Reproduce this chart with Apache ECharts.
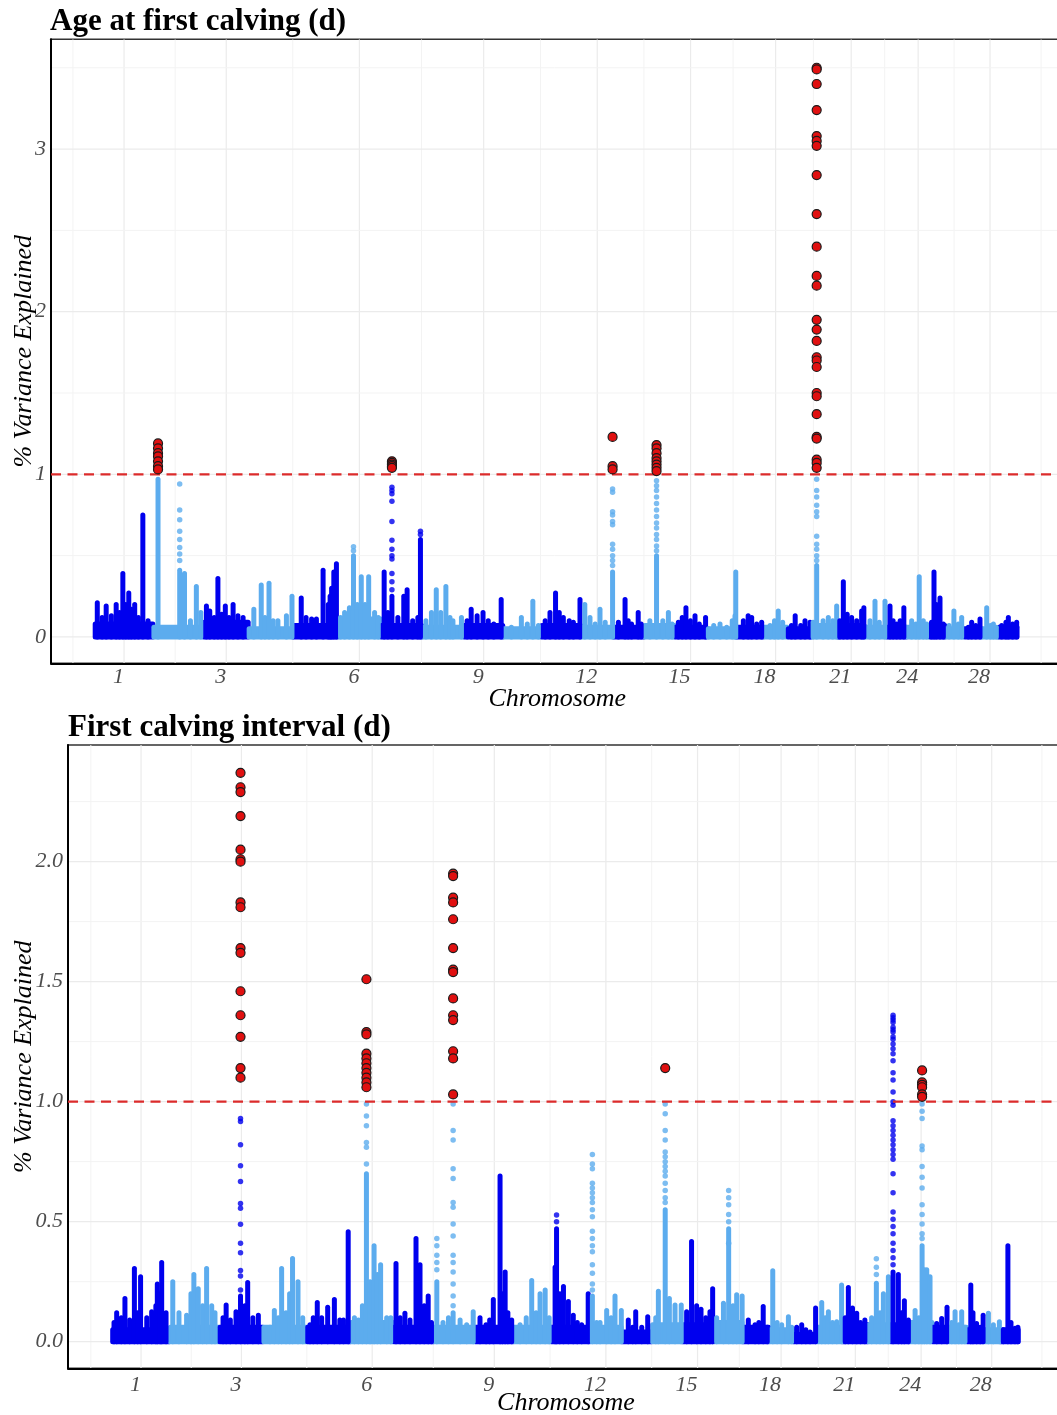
<!DOCTYPE html>
<html><head><meta charset="utf-8">
<script src="https://cdn.jsdelivr.net/npm/echarts@6/dist/echarts.min.js"></script>
<style>html,body{margin:0;padding:0;background:#fff}#c{width:1057px;height:1415px}</style>
</head><body><div id="c"></div>
<script>
// ---------------- DATA ----------------
// chromosome lengths (Mb), BTA 1..29
const chrLen = [158.5,136.2,121.0,120.0,120.1,117.8,110.7,113.3,105.5,103.3,107.0,87.2,83.5,82.4,85.0,81.0,73.2,65.8,63.4,72.0,71.6,61.4,52.5,62.3,42.35,52.0,45.6,45.9,51.1];
const chrLabels = [1,3,6,9,12,15,18,21,24,28];
const yTicksAfc = [0,1,2,3];
const yTicksFci = [0,0.5,1,1.5,2];
const threshold = 1.0;

// ---- Age at first calving ----
// dense background level per chromosome
const afcBase = [0.08,0.06,0.09,0.05,0.07,0.11,0.07,0.06,0.07,0.05,0.07,0.06,0.06,0.07,0.06,0.05,0.06,0.06,0.05,0.07,0.07,0.06,0.06,0.06,0.07,0.05,0.05,0.05,0.06];
// dense columns of SNPs [chr, pos Mb, top value]
const afcCols = [
[1,7,0.21],[1,20,0.12],[1,31,0.19],[1,45,0.13],[1,58,0.2],[1,67,0.15],[1,76,0.39],[1,84,0.2],[1,92,0.27],[1,99,0.17],[1,108,0.2],[1,118,0.12],[1,130,0.75],[1,144,0.1],
[2,12.5,0.97],[2,71,0.41],[2,84,0.39],[2,100,0.1],[2,116,0.31],[2,128,0.15],
[3,7,0.19],[3,16,0.16],[3,28,0.12],[3,38,0.36],[3,48,0.14],[3,58,0.19],[3,68,0.12],[3,79,0.2],[3,92,0.13],[3,106,0.12],
[4,14,0.17],[4,34,0.32],[4,44,0.12],[4,55,0.33],[4,66,0.1],[4,79,0.1],[4,102,0.13],[4,117,0.25],
[5,22,0.24],[5,35,0.12],[5,50,0.11],[5,63,0.11],[5,81,0.41],[5,95,0.2],[5,100,0.25],[5,104,0.3],[5,110,0.4],[5,117,0.45],
[6,8,0.12],[6,19,0.15],[6,32,0.18],[6,43,0.5],[6,53,0.2],[6,64,0.37],[6,74,0.2],[6,84,0.37],[6,100,0.15],[6,110,0.12],
[7,8,0.4],[7,18,0.15],[7,29,0.25],[7,45,0.12],[7,61,0.25],[7,70,0.29],[7,85,0.1],[7,99,0.12],[7,106,0.6],
[8,10,0.1],[8,25,0.15],[8,38,0.29],[8,50,0.15],[8,64,0.31],[8,75,0.12],[8,83,0.1],[8,106,0.12],
[9,8,0.1],[9,19,0.17],[9,35,0.13],[9,51,0.15],[9,65,0.1],[9,80,0.08],[9,100,0.23],
[10,22,0.06],[10,49,0.12],[10,65,0.08],[10,80,0.22],[10,95,0.07],
[11,10,0.1],[11,23,0.15],[11,38,0.27],[11,48,0.15],[11,59,0.12],[11,75,0.1],[11,86,0.09],[11,104,0.23],
[12,10,0.2],[12,24,0.12],[12,38,0.08],[12,51,0.17],[12,65,0.09],[12,85,0.4],
[13,13.5,0.09],[13,31.5,0.23],[13,40,0.1],[13,49,0.08],[13,67,0.15],[13,75,0.08],
[14,15,0.1],[14,33,0.5],[14,50,0.1],[14,65,0.15],[14,75,0.08],
[15,9.5,0.09],[15,20,0.12],[15,30,0.18],[15,42,0.1],[15,54.5,0.13],[15,66,0.08],[15,83,0.12],
[16,5.5,0.05],[16,20,0.07],[16,37,0.08],[16,55,0.06],[16,70,0.1],[16,77.5,0.13],[16,79.5,0.4],
[17,19,0.1],[17,32,0.13],[17,41.5,0.12],[17,55,0.08],[17,68.5,0.09],
[18,18,0.07],[18,30,0.1],[18,40,0.16],[18,52,0.09],
[19,10,0.07],[19,20,0.13],[19,35,0.07],[19,46.5,0.1],[19,60,0.09],
[20,5,0.09],[20,14.6,0.44],[20,32,0.1],[20,46,0.12],[20,58,0.1],[20,68.6,0.19],
[21,5,0.1],[21,14.6,0.34],[21,25,0.14],[21,37,0.12],[21,50.6,0.1],[21,64,0.16],[21,70,0.18],
[22,15,0.1],[22,28.5,0.22],[22,40,0.09],[22,55.5,0.22],
[23,7.6,0.19],[23,16,0.1],[23,25.6,0.08],[23,35,0.1],[23,45,0.18],
[24,13.6,0.1],[24,25,0.08],[24,34,0.37],[24,45,0.1],[24,54,0.08],
[25,5,0.09],[25,11.6,0.4],[25,18,0.2],[25,27.8,0.24],[25,36.8,0.08],
[26,10,0.07],[26,23,0.16],[26,35,0.08],[26,44,0.12],
[27,10,0.06],[27,19,0.09],[27,30,0.07],[27,41.5,0.11],
[28,14,0.18],[28,24,0.07],[28,32,0.08],[28,40,0.06],
[29,8.5,0.07],[29,20,0.09],[29,26.5,0.12],[29,38,0.08],[29,49,0.09]
];
// isolated SNPs above the columns [chr, pos, values]
const afcDots = [
[2,71,[0.94,0.78,0.72,0.65,0.6,0.55,0.51,0.47]],
[6,43,[0.555,0.53]],
[7,29,[0.92,0.9,0.88,0.835,0.71,0.595,0.54,0.5,0.48,0.39,0.34,0.29]],
[7,106,[0.65,0.63]],
[12,85,[0.91,0.89,0.77,0.75,0.71,0.69,0.57,0.54,0.5,0.47,0.44]],
[14,33,[0.96,0.93,0.9,0.86,0.82,0.78,0.74,0.7,0.67,0.63,0.6,0.56,0.53]],
[20,14.6,[0.97,0.9,0.86,0.81,0.77,0.74,0.62,0.57,0.54,0.5,0.47]]
];
// SNPs above the threshold [chr, pos, values]
const afcSig = [
[2,12.5,[1.19,1.16,1.13,1.11,1.08,1.05,1.03]],
[7,29,[1.08,1.07,1.06,1.05,1.04]],
[12,85,[1.23,1.05,1.03]],
[14,33,[1.18,1.16,1.13,1.1,1.08,1.06,1.04,1.02]],
[20,14.6,[3.5,3.49,3.4,3.24,3.08,3.05,3.02,2.84,2.6,2.4,2.22,2.16,1.95,1.89,1.82,1.72,1.7,1.66,1.5,1.48,1.37,1.23,1.22,1.09,1.07,1.04]]
];

// ---- First calving interval ----
const fciBase = [0.05,0.06,0.06,0.06,0.06,0.08,0.06,0.06,0.06,0.06,0.06,0.06,0.04,0.07,0.07,0.08,0.06,0.05,0.03,0.06,0.07,0.07,0.07,0.08,0.06,0.06,0.05,0.05,0.05];
const fciCols = [
[1,5,0.08],[1,12.3,0.12],[1,25,0.1],[1,35,0.18],[1,48,0.09],[1,61,0.305],[1,70,0.12],[1,78,0.27],[1,95,0.1],[1,108.5,0.125],[1,120,0.15],[1,124,0.24],[1,132,0.2],[1,136,0.33],[1,148,0.12],
[2,8,0.25],[2,25,0.12],[2,46,0.11],[2,58,0.2],[2,66,0.28],[2,78,0.22],[2,90,0.15],[2,101,0.305],[2,115,0.15],[2,124,0.12],
[3,10,0.1],[3,18.5,0.153],[3,30,0.09],[3,45.6,0.125],[3,58,0.19],[3,70,0.15],[3,77.7,0.246],[3,92,0.1],[3,107,0.11],
[4,18,0.06],[4,30,0.13],[4,41,0.1],[4,50,0.305],[4,62,0.12],[4,72,0.2],[4,80,0.347],[4,95,0.25],[4,108,0.1],
[5,8,0.07],[5,17,0.1],[5,28,0.163],[5,40,0.1],[5,56.6,0.143],[5,75,0.176],[5,90,0.09],[5,100,0.09],[5,113,0.458],
[6,10,0.1],[6,21,0.09],[6,32,0.15],[6,43,0.7],[6,53,0.25],[6,64,0.4],[6,73,0.28],[6,82,0.32],[6,98.7,0.1],[6,110,0.1],
[7,6.5,0.326],[7,18,0.1],[7,31,0.118],[7,45,0.09],[7,61.5,0.43],[7,72.5,0.32],[7,84,0.15],[7,95,0.19],[7,104,0.08],
[8,8,0.25],[8,25,0.08],[8,40,0.1],[8,52.8,0.12],[8,72,0.09],[8,90,0.07],[8,108,0.125],
[9,13.4,0.1],[9,30,0.07],[9,40,0.09],[9,50,0.176],[9,68.5,0.69],[9,75,0.2],[9,82.5,0.29],[9,90,0.12],[9,100.5,0.09],
[10,18,0.07],[10,35,0.1],[10,50,0.255],[10,62,0.12],[10,73,0.2],[10,87,0.215],[10,98,0.1],
[11,11,0.31],[11,15,0.47],[11,24,0.2],[11,34,0.23],[11,47.5,0.167],[11,61,0.11],[11,72,0.08],[11,84,0.07],[11,102,0.2],
[12,6.5,0.19],[12,18,0.08],[12,27.6,0.08],[12,45.8,0.13],[12,58,0.1],[12,68.7,0.19],[12,86,0.13],
[13,18,0.09],[13,30,0.06],[13,38.4,0.125],[13,55,0.06],[13,71.4,0.104],
[14,10,0.1],[14,17.2,0.21],[14,36,0.55],[14,47.4,0.18],[14,63,0.153],[14,80,0.153],
[15,12.5,0.125],[15,26,0.417],[15,40,0.15],[15,52,0.135],[15,65,0.1],[15,76.6,0.125],[15,84,0.22],
[16,10,0.1],[16,28.7,0.16],[16,43,0.47],[16,55,0.15],[16,65,0.195],[16,80,0.19],
[17,16,0.09],[17,34.5,0.07],[17,45,0.08],[17,57,0.146],[17,68,0.06],
[18,10,0.295],[18,22,0.08],[18,34.6,0.07],[18,53,0.104],[18,62,0.06],
[19,10,0.06],[19,23.8,0.07],[19,35,0.05],[19,46.7,0.04],[19,62,0.14],
[20,15.4,0.163],[20,25,0.1],[20,33.7,0.125],[20,45,0.08],[20,56.6,0.083],[20,70,0.236],
[21,8,0.1],[21,16.6,0.226],[21,28,0.14],[21,39.6,0.118],[21,50,0.08],[21,62,0.09],
[22,9,0.1],[22,22,0.243],[22,32,0.12],[22,41.3,0.2],[22,55,0.27],
[23,6.5,0.29],[23,21,0.28],[23,30,0.12],[23,37.6,0.17],[23,48.6,0.09],
[24,14.6,0.13],[24,25,0.1],[24,33.8,0.4],[24,40,0.3],[24,46.6,0.3],[24,55.6,0.27],
[25,11.7,0.076],[25,25.3,0.097],[25,40,0.143],
[26,10.6,0.08],[26,19.8,0.125],[26,30,0.07],[26,38,0.125],[26,47,0.06],
[27,11,0.236],[27,17,0.12],[27,27,0.076],[27,37,0.06],[27,45,0.11],
[28,13.8,0.118],[28,27.5,0.07],[28,44,0.083],
[29,9,0.05],[29,21.5,0.4],[29,30,0.08],[29,41,0.056],[29,49,0.06]
];
const fciDots = [
[3,58,[0.93,0.917,0.82,0.733,0.667,0.576,0.556,0.489,0.41,0.37,0.296,0.274,0.215]],
[6,43,[0.99,0.94,0.9,0.83,0.81,0.74]],
[8,8,[0.43,0.4,0.36,0.33,0.3]],
[8,52.8,[0.99,0.88,0.84,0.72,0.68,0.58,0.56,0.49,0.44,0.36,0.33,0.29,0.24,0.19,0.15]],
[11,15,[0.528,0.5]],
[12,6.5,[0.78,0.74,0.72,0.66,0.64,0.62,0.6,0.58,0.55,0.52,0.46,0.43,0.4,0.375,0.32,0.285,0.24,0.215]],
[14,36,[0.99,0.95,0.88,0.84,0.79,0.77,0.75,0.73,0.71,0.69,0.66,0.63,0.6,0.58]],
[16,43,[0.63,0.6,0.57,0.53,0.5,0.41]],
[22,22,[0.345,0.31,0.28]],
[23,6.5,[1.36,1.35,1.34,1.33,1.31,1.3,1.29,1.27,1.26,1.24,1.22,1.2,1.17,1.12,1.09,1.04,1.0,0.985,0.92,0.9,0.88,0.86,0.84,0.82,0.8,0.78,0.76,0.7,0.62,0.54,0.51,0.48,0.45,0.41,0.38,0.35,0.32]],
[24,33.8,[0.99,0.96,0.93,0.815,0.8,0.73,0.685,0.64,0.57,0.53,0.49,0.45,0.43]]
];
const fciSig = [
[3,58,[2.37,2.31,2.29,2.19,2.05,2.01,2.0,1.83,1.81,1.64,1.62,1.46,1.36,1.27,1.14,1.1]],
[6,43,[1.51,1.29,1.28,1.2,1.18,1.16,1.14,1.12,1.1,1.08,1.06]],
[8,52.8,[1.95,1.94,1.85,1.83,1.76,1.64,1.55,1.54,1.43,1.36,1.34,1.21,1.18,1.03]],
[14,36,[1.14]],
[24,33.8,[1.13,1.08,1.07,1.06,1.03,1.02]]
];

// ---------------- BUILD ----------------
const DARK = '#0000ee', LIGHT = '#5cacee';
const chrStart = []; let acc = 0;
chrLen.forEach(l => { chrStart.push(acc); acc += l; });
const centers = chrLabels.map(c => chrStart[c-1] + chrLen[c-1]/2);
const xMinors = [];
const d0 = centers[1] - centers[0];
xMinors.push(centers[0] - d0/2);
for (let i = 0; i < centers.length - 1; i++) xMinors.push((centers[i] + centers[i+1]) / 2);
xMinors.push(centers[centers.length-1] + d0/2);
const gx = (chr, pos) => chrStart[chr-1] + pos;
const XMAX = 2616;

const SERIF = "'Liberation Serif','Times New Roman',serif";

function panel(idx, base, cols, dots, sig, yMin, yMax, xMin, yMaj, yMin2) {
  const S = [];
  const ax = { xAxisIndex: idx, yAxisIndex: idx };
  const vData = centers.map(v => [v, 0, 1]).concat(xMinors.map(v => [v, 0, 0]));
  const hData = yMaj.map(v => [0, v, 1]).concat(yMin2.map(v => [0, v, 0]));
  S.push(Object.assign({ type: 'custom', z: 0, silent: true, clip: true, data: vData,
    renderItem: (p, api) => { const x = api.value(0), m = api.value(2);
      const a = api.coord([x, yMin]), b = api.coord([x, yMax]);
      return { type: 'line', shape: { x1: a[0], y1: a[1], x2: b[0], y2: b[1] },
        style: { stroke: m ? '#ebebeb' : '#f3f3f3', lineWidth: m ? 1.2 : 1 } }; } }, ax));
  S.push(Object.assign({ type: 'custom', z: 0, silent: true, clip: true, data: hData,
    renderItem: (p, api) => { const y = api.value(1), m = api.value(2);
      const a = api.coord([xMin, y]), b = api.coord([XMAX, y]);
      return { type: 'line', shape: { x1: a[0], y1: a[1], x2: b[0], y2: b[1] },
        style: { stroke: m ? '#ebebeb' : '#f3f3f3', lineWidth: m ? 1.2 : 1 } }; } }, ax));
  const bData = base.map((h, i) => [chrStart[i], h, chrStart[i] + chrLen[i], (i + 1) % 2]);
  S.push(Object.assign({ type: 'custom', z: 1, silent: true, clip: true, data: bData,
    renderItem: (p, api) => { const s = api.value(0), h = api.value(1), e = api.value(2), c = api.value(3);
      const a = api.coord([s, h]), b = api.coord([e, 0]);
      return { type: 'rect', shape: { x: a[0] - 2, y: a[1] - 2.5, width: b[0] - a[0] + 4, height: b[1] - a[1] + 5, r: 2.5 },
        style: { fill: c === 1 ? DARK : LIGHT } }; } }, ax));
  const cData = cols.map(r => [gx(r[0], r[1]), r[2], r[0] % 2]);
  S.push(Object.assign({ type: 'custom', z: 2, silent: true, clip: true, data: cData,
    renderItem: (p, api) => { const x = api.value(0), h = api.value(1), c = api.value(2);
      const a = api.coord([x, h]), b = api.coord([x, 0]);
      return { type: 'rect', shape: { x: a[0] - 2.5, y: a[1] - 2.5, width: 5, height: b[1] - a[1] + 5, r: 2.5 },
        style: { fill: c === 1 ? DARK : LIGHT } }; } }, ax));
  const dk = [], lt = [];
  dots.forEach(r => r[2].forEach(v => (r[0] % 2 ? dk : lt).push([gx(r[0], r[1]), v])));
  S.push(Object.assign({ type: 'scatter', z: 3, silent: true, symbolSize: 5.5, data: dk, itemStyle: { color: DARK } }, ax));
  S.push(Object.assign({ type: 'scatter', z: 3, silent: true, symbolSize: 5.5, data: lt, itemStyle: { color: LIGHT } }, ax));
  S.push(Object.assign({ type: 'custom', z: 4, silent: true, clip: true, data: [[0, threshold]],
    renderItem: (p, api) => { const y = api.value(1);
      const a = api.coord([xMin, y]), b = api.coord([XMAX, y]);
      return { type: 'line', shape: { x1: a[0], y1: a[1], x2: b[0], y2: b[1] },
        style: { stroke: '#dc2b2b', lineWidth: 2.2, lineDash: [10, 6.5] } }; } }, ax));
  const sg = [];
  sig.forEach(r => r[2].forEach(v => sg.push([gx(r[0], r[1]), v])));
  S.push(Object.assign({ type: 'scatter', z: 5, silent: true, symbolSize: 9, data: sg,
    itemStyle: { color: '#e01010', borderColor: '#1a1a1a', borderWidth: 1.2, opacity: 1 } }, ax));
  return S;
}

function xAxis(idx, xMin, margin, nameGap) {
  return { type: 'value', gridIndex: idx, min: xMin, max: XMAX,
    axisLine: { show: true, onZero: false, lineStyle: { color: '#000', width: 2 } },
    axisTick: { show: false }, splitLine: { show: false }, minorSplitLine: { show: false },
    axisLabel: { customValues: centers, align: 'right', margin: margin, color: '#4d4d4d',
      fontFamily: SERIF, fontStyle: 'italic', fontSize: 22,
      formatter: v => { let best = chrLabels[0], bd = 1e9;
        centers.forEach((c, i) => { const d = Math.abs(c - v); if (d < bd) { bd = d; best = chrLabels[i]; } });
        return String(best); } },
    name: 'Chromosome', nameLocation: 'middle', nameGap: nameGap, nameMoveOverlap: false,
    nameTextStyle: { color: '#000', fontFamily: SERIF, fontStyle: 'italic', fontSize: 26 } };
}
function yAxis(idx, yMin, yMax, ticks, fmt, nameGap) {
  return { type: 'value', gridIndex: idx, min: yMin, max: yMax,
    axisLine: { show: true, onZero: false, lineStyle: { color: '#000', width: 2 } },
    axisTick: { show: false }, splitLine: { show: false },
    axisLabel: { customValues: ticks, margin: 5, color: '#4d4d4d', fontFamily: SERIF, fontStyle: 'italic', fontSize: 22, formatter: fmt },
    name: '% Variance Explained', nameLocation: 'middle', nameGap: nameGap, nameRotate: 90, nameMoveOverlap: false,
    nameTextStyle: { color: '#000', fontFamily: SERIF, fontStyle: 'italic', fontSize: 26 } };
}

const A_XMIN = -118, F_XMIN = -121.5;
const A_YMIN = -0.162, A_YMAX = 3.675, F_YMIN = -0.111, F_YMAX = 2.486;

const option = {
  animation: false,
  backgroundColor: '#fff',
  title: [
    { text: 'Age at first calving (d)', left: 50, top: 6, padding: 0,
      textStyle: { fontFamily: SERIF, fontWeight: 'bold', fontSize: 31, color: '#000' } },
    { text: 'First calving interval (d)', left: 68, top: 712, padding: 0,
      textStyle: { fontFamily: SERIF, fontWeight: 'bold', fontSize: 31, color: '#000' } }
  ],
  grid: [
    { left: 51, right: -6.5, top: 39.3, bottom: 751.7, show: true, borderColor: '#333', borderWidth: 1.5, backgroundColor: '#fff', containLabel: false, outerBoundsMode: 'none' },
    { left: 68, right: -6.9, top: 745, bottom: 46.7, show: true, borderColor: '#333', borderWidth: 1.5, backgroundColor: '#fff', containLabel: false, outerBoundsMode: 'none' }
  ],
  xAxis: [ xAxis(0, A_XMIN, 3, 23), xAxis(1, F_XMIN, 6, 22) ],
  yAxis: [
    yAxis(0, A_YMIN, A_YMAX, yTicksAfc, v => String(Math.round(v)), 14),
    yAxis(1, F_YMIN, F_YMAX, yTicksFci, v => v.toFixed(1), 31)
  ],
  series: [].concat(
    panel(0, afcBase, afcCols, afcDots, afcSig, A_YMIN, A_YMAX, A_XMIN, [0,1,2,3], [0.5,1.5,2.5,3.5]),
    panel(1, fciBase, fciCols, fciDots, fciSig, F_YMIN, F_YMAX, F_XMIN, [0,0.5,1,1.5,2], [0.25,0.75,1.25,1.75,2.25])
  )
};
const chart = echarts.init(document.getElementById('c'), null, { renderer: 'canvas' });
chart.setOption(option);
</script>
</body></html>
